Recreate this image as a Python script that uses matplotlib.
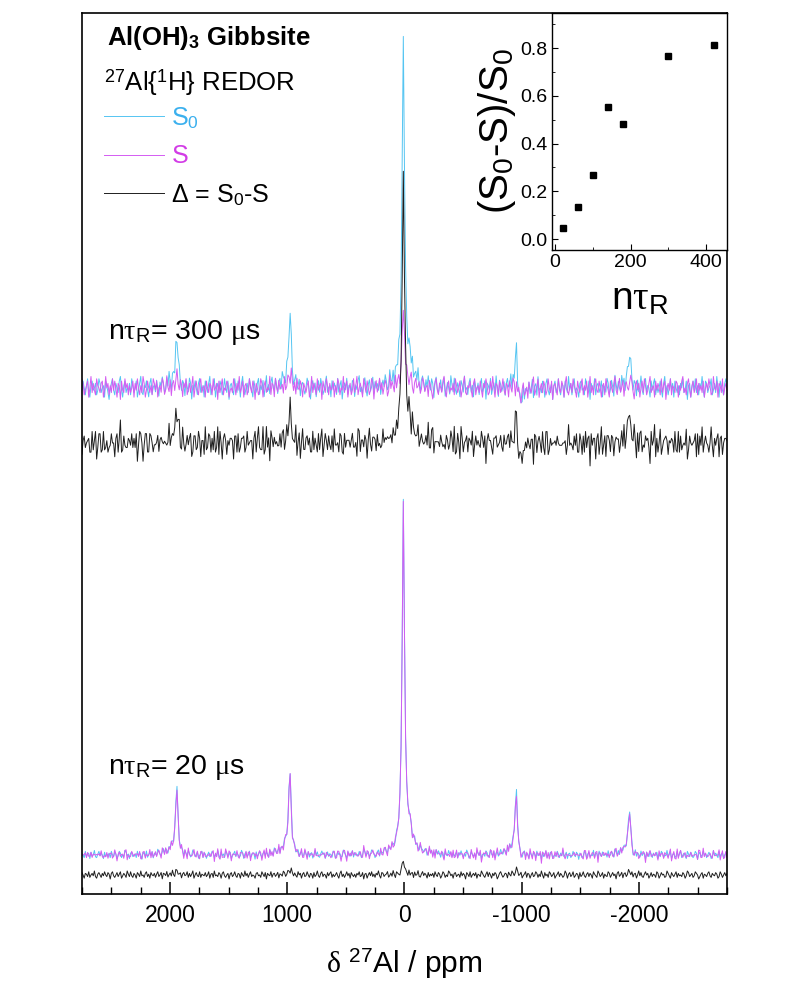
import numpy as np
import matplotlib
matplotlib.use('Agg')
import matplotlib.pyplot as plt
from matplotlib.ticker import MultipleLocator, FormatStrFormatter

plt.rcParams['font.family'] = ['Liberation Sans', 'DejaVu Sans']
plt.rcParams['mathtext.fontset'] = 'custom'
plt.rcParams['mathtext.rm'] = 'Liberation Sans'
# greek letters come out upright serif, as in the Symbol font
plt.rcParams['mathtext.it'] = 'Liberation Serif'
plt.rcParams['mathtext.bf'] = 'Liberation Sans:bold'
plt.rcParams['axes.unicode_minus'] = False

# centre band and spinning sidebands (ppm)
peak_ppm = [1940, 975, 10, -955, -1920]

# peak heights above each trace's baseline
s0_20us = [65, 82, 336, 63, 46]
s_20us = [62, 79, 334, 60, 44]
diff_20us = [4, 5, 13, 4, 3]
s0_300us = [50, 70, 336, 41, 33]
s_300us = [10, 14, 76, 8, 6]
diff_300us = [35, 32, 258, 30, 30]

# undershoot just upfield of the sidebands
dip_20us = [0, 0, 0, 5, 3]
dip_s0_300us = [0, 0, 0, 18, 0]
dip_s_300us = [0, 0, 0, 10, 0]
dip_diff_300us = [0, 0, 0, 20, 0]

# baseline noise of the two acquisitions
noise_a = [
    2, -1, 3, 0, -3, 1, 4, -2, -4, 1, 3, -1, 0, 2, -3, -1, 4, 2, -2, 0, 1, -4,
    3, 1, -2, -5, 0, 2, 4, -1, -3, 2, 0, -2, 3, 5, -1, -4, 1, 3, -2, 0, -1, 2,
    -3, 4, 1, -2, 0, 3, -4, -1, 2, 5, -2, -3, 1, 0, 3, -1, -4, 2, 4, -3, 0, 1,
    -2, 3, -1, -4, 2, 0, 4, 1, -3, -2, 3, -1, 5, 0, -4, 2, 1, -3, 3, -2, 0, 4,
    -1, -3, 2, 1, -4, 3, 0, -2, 4, 2, -5, 1, -1, 3, 0, -3, 2, 4, -2, -1, 1, -4,
    3, 0, -2, 2, 5, -3, -1, 1, 4, -4, 0, 2, -2, 3, 1, -3, -1, 4, 0, -2, 3, -5,
    1, 2, -1, -3, 4, 0, -2, 3, 1, -4, 2, 5, -1, -3, 0, 2, -2, 4, 1, -1, -4, 3,
    0, -2, 2, 4, -3, 1, -1, 3, -4, 0, 5, -2, 1, -3, 2, 4, -1, -2, 3, 0, -4, 1,
    2, -3, 4, 1, -1, -4, 3, 0, -2, 2, 5, -1, -3, 1, 4, -2, 0, 3, -4, 1, 2, -1,
    -3, 0, 4, 2, -2, -5, 1, 3, -1, 2, -4, 0, 3, -2, 4, 1, -3, -1, 2, 5, -2, 0,
    1, -4, 3, -1, 2, 0, -3, 4, -2, 1, 3, -5, 0, 2, -1, 4, -3, 1, 0, -2, 3, 2,
    -4, 1, -1, 3, 5, -2, 0, -3, 2, 4, -1, -4, 1, 3, -2, 0, 4, -3, 2, -1, 1, -2,
    3, -4, 0, 2, -1, 4, 1, -3, -2, 5, 0, -1, 3, -4, 2, 1, -2, 4, -3, 0, 2, -1,
]
noise_b = [
    -1, 3, 0, -4, 2, 1, -2, 4, -3, 0, 2, -1, 5, -2, -4, 1, 3, 0, -3, 2, -1, 4,
    0, -2, 3, 1, -5, 2, 4, -1, -3, 0, 3, -2, 1, 4, -4, -1, 2, 0, -3, 5, 1, -2,
    4, -1, -3, 2, 0, -4, 3, 1, -2, 5, -1, 0, -3, 2, 4, -2, 1, -4, 3, 0, -1, 2,
    -3, 1, 4, -2, 0, 3, -5, 2, 1, -1, 4, -3, 0, 2, -2, 5, -1, -4, 3, 1, -2, 0,
    2, -4, 1, 3, -1, 0, 4, -3, 2, -2, 1, 5, -4, 0, 3, -1, -2, 4, -3, 1, 0, -1,
    3, -2, 0, 4, -4, 1, 2, -3, 5, -1, 0, -2, 3, 1, -4, 2, 4, -1, -3, 0, 2, -5,
    1, 3, -2, 0, 4, -1, -3, 2, 1, -4, 3, 0, -2, 5, -1, 2, -3, 1, 4, -2, 0, -1,
    -4, 2, 3, -1, 0, -3, 4, 1, -2, 3, -5, 2, 0, -1, 4, -3, 1, 2, -2, 0, 3, -4,
    1, 0, -2, 4, 2, -3, -1, 3, 0, -4, 5, 1, -2, 2, -1, -3, 4, 0, 2, -4, 1, 3,
    -2, -1, 4, 0, -3, 2, 1, -4, 3, -2, 0, 5, -1, -3, 2, 4, -2, 1, 0, -4, 3, -1,
    2, 4, -3, 1, -2, 0, 3, -1, -4, 2, 5, -2, 1, -3, 0, 4, -1, 2, -4, 3, 0, -2,
    1, -3, 2, 0, 4, -2, -1, 3, -5, 1, 2, -4, 0, 3, -1, 4, -2, 1, -3, 2, 0, 5,
    -1, -4, 3, 2, -2, 0, 1, 4, -3, -1, 2, -2, 5, 0, -4, 3, 1, -1, -3, 2, 4, 0,
]

# REDOR dephasing curve
ntr_us = [20, 60, 100, 140, 180, 300, 420]
dephasing = [0.045, 0.135, 0.27, 0.555, 0.48, 0.765, 0.815]

na = np.array(noise_a, dtype=float)
nb = np.array(noise_b, dtype=float)

# chemical shift axis, 9.65 ppm per point (100 points between sidebands)
n_pts = 2 * len(noise_a)
ppm = 10 + 9.65 * np.arange(285, 285 - n_pts, -1)


def lineshape(heights, dips):
    y = np.zeros_like(ppm)
    for x0, h in zip(peak_ppm, heights):
        y += h / (1 + ((ppm - x0) / 12.0) ** 2)
        if x0 == 10:
            # broad quadrupolar foot with an upfield shoulder
            y += 0.06 * h / (1 + ((ppm + 15) / 60.0) ** 2)
            y += 0.03 * h / (1 + ((ppm + 45) / 15.0) ** 2)
        else:
            left = ppm > x0
            y[left] += 0.22 * h * np.exp(-(ppm[left] - x0) / 60.0)
    for x0, d in zip(peak_ppm, dips):
        y -= d / (1 + ((ppm - x0 + 30) / 25.0) ** 2)
    return y


C_S0 = '#55c5f2'
C_S = '#d45cf2'
C_D = '#1e1e1e'

# traces at 300 us
s0_top_noise = 2.3 * np.concatenate([na, nb])
s_top_noise = 2.3 * np.concatenate([nb[::-1], na])
s0_top = lineshape(s0_300us, dip_s0_300us) + s0_top_noise
s_top = lineshape(s_300us, dip_s_300us) + s_top_noise
d_top = lineshape(diff_300us, dip_diff_300us) + (s0_top_noise - s_top_noise)

# traces at 20 us
s0_bot_noise = 0.9 * np.concatenate([na[::-1], nb[::-1]])
d_bot_noise = 0.8 * np.concatenate([nb, na[::-1]])
s0_bot = lineshape(s0_20us, dip_20us) + s0_bot_noise
s_bot = lineshape(s_20us, dip_20us) + (s0_bot_noise - d_bot_noise)
d_bot = lineshape(diff_20us, [0] * 5) + d_bot_noise

fig = plt.figure(figsize=(7.9, 9.83), dpi=100)
ax = fig.add_axes([82 / 790, 89 / 983, 645 / 790, 881 / 983])

lw = 0.7
l_s0, = ax.plot(ppm, 506 + s0_top, color=C_S0, lw=lw)
l_s, = ax.plot(ppm, 506 + s_top, color=C_S, lw=lw)
l_d, = ax.plot(ppm, 451 + d_top, color=C_D, lw=lw)
ax.plot(ppm, 39 + s0_bot, color=C_S0, lw=lw)
ax.plot(ppm, 39 + s_bot, color=C_S, lw=lw)
ax.plot(ppm, 19 + d_bot, color=C_D, lw=lw)

ax.set_xlim(2750, -2750)
ax.set_ylim(0, 881)
ax.set_yticks([])
ax.xaxis.set_major_locator(MultipleLocator(1000))
ax.xaxis.set_minor_locator(MultipleLocator(250))
ax.tick_params(axis='x', which='both', direction='in', top=False, labelsize=16.5, pad=7)
ax.tick_params(axis='x', which='major', length=8.5, width=1.1)
ax.tick_params(axis='x', which='minor', length=5, width=1.0)
for sp in ax.spines.values():
    sp.set_linewidth(1.2)
ax.set_xlabel(r'$\delta$ $^{27}$Al / ppm', fontsize=21.5, labelpad=15)

ax.text(0.039, 0.9637, r'Al(OH)$_\mathbf{3}$ Gibbsite', transform=ax.transAxes,
        fontsize=18.5, fontweight='bold', va='baseline')
ax.text(0.034, 0.9115, r'$^{27}$Al{$^1$H} REDOR', transform=ax.transAxes,
        fontsize=18.5, va='baseline')
ax.text(0.040, 0.630, r'n$\tau_\mathrm{R}$= 300 $\mu$s', transform=ax.transAxes,
        fontsize=20.5, va='baseline')
ax.text(0.040, 0.136, r'n$\tau_\mathrm{R}$= 20 $\mu$s', transform=ax.transAxes,
        fontsize=20.5, va='baseline')

leg = ax.legend([l_s0, l_s, l_d], ['S$_0$', 'S', 'Δ = S$_0$-S'],
                loc='upper left', bbox_to_anchor=(0.0186, 0.907), frameon=False,
                fontsize=18, handlelength=2.4, handletextpad=0.3,
                labelspacing=0.55, borderaxespad=0)
for txt, col in zip(leg.get_texts(), ['#3bb0ee', '#d23ce6', 'black']):
    txt.set_color(col)

# dephasing curve inset
axin = fig.add_axes([552 / 790, 733 / 983, 175 / 790, 237 / 983])
axin.plot(ntr_us, dephasing, 's', color='black', ms=4.5)
axin.set_xlim(-8, 455)
axin.set_ylim(-0.046, 0.947)
axin.xaxis.set_major_locator(MultipleLocator(200))
axin.xaxis.set_minor_locator(MultipleLocator(100))
axin.yaxis.set_major_locator(MultipleLocator(0.2))
axin.yaxis.set_minor_locator(MultipleLocator(0.1))
axin.yaxis.set_major_formatter(FormatStrFormatter('%.1f'))
axin.tick_params(which='both', direction='in', labelsize=14, pad=3)
axin.tick_params(which='major', length=4)
axin.tick_params(which='minor', length=2.5)
for sp in axin.spines.values():
    sp.set_linewidth(1.0)
axin.set_ylabel('(S$_0$-S)/S$_0$', fontsize=29, labelpad=2)
axin.set_xlabel(r'n$\tau_\mathrm{R}$', fontsize=28, labelpad=7)

fig.savefig('out.png', dpi=100)
